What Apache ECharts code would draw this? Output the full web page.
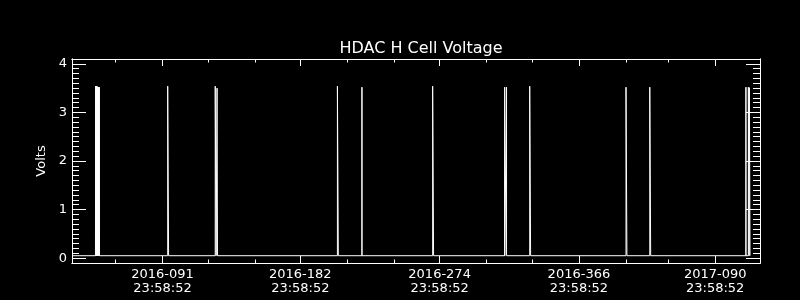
<!DOCTYPE html>
<html><head><meta charset="utf-8">
<script src="https://cdn.jsdelivr.net/npm/echarts@6/dist/echarts.min.js"></script>
<style>html,body{margin:0;padding:0;background:#000}#c{width:800px;height:300px}</style>
</head><body><div id="c"></div>
<script>
// ---- data (x = day of year, counted from 2016-001; 2017 days continue after 366) ----
const titleText = 'HDAC H Cell Voltage';
const yName = 'Volts';
const xRange = [32.2, 486.6];
const yRange = [-0.1, 4.1];
const majorTickDays = [91.999, 182.999, 274.999, 366.999, 456.999];
const majorTickLabels = ['2016-091\n23:58:52', '2016-182\n23:58:52', '2016-274\n23:58:52', '2016-366\n23:58:52', '2017-090\n23:58:52'];
const minorTickDays = [60.999, 121.999, 152.999, 213.999, 244.999, 305.999, 335.999, 397.999, 425.999];
const yMajorTicks = [0, 1, 2, 3, 4];
const yMinorStep = 0.1;

const days = [
  32.2,
  47.7, 47.8, 47.95, 48.1, 48.25, 48.4, 48.55, 48.7, 48.85, 49.0, 49.15, 49.3, 49.45, 49.6, 49.75, 49.9, 50.05, 50.2, 50.35,
  95.4, 95.4, 96.0, 96.0,
  126.8, 126.8, 127.4, 127.4,
  128.0, 128.0, 128.3, 128.3,
  207.5, 207.5, 208.1, 208.1,
  223.7, 223.7, 223.7,
  270.4, 270.4, 271.0, 271.0,
  318.0, 318.0, 318.0,
  319.2, 319.2, 319.2,
  334.5, 334.5, 335.1, 335.1,
  398.1, 398.1, 398.7, 398.7,
  413.8, 413.8, 414.4, 414.4,
  477.3, 477.3, 477.3,
  478.9, 478.9, 479.4, 479.4, 479.5, 479.6, 480.0, 480.0,
  480.3
];
const volts = [
  0.05,
  0.05, 3.54, 0.05, 3.54, 0.05, 3.54, 0.05, 3.53, 0.05, 3.53, 0.05, 3.52, 0.05, 3.52, 0.05, 3.52, 0.05, 3.52, 0.05,
  0.05, 3.54, 3.54, 0.05,
  0.05, 3.54, 3.54, 0.05,
  0.05, 3.50, 3.50, 0.05,
  0.05, 3.54, 3.54, 0.05,
  0.05, 3.52, 0.05,
  0.05, 3.54, 3.54, 0.05,
  0.05, 3.52, 0.05,
  0.05, 3.52, 0.05,
  0.05, 3.54, 3.52, 0.05,
  0.05, 3.52, 3.50, 0.05,
  0.05, 3.52, 3.52, 0.05,
  0.05, 3.52, 0.05,
  0.05, 3.52, 3.52, 0.05, 0.05, 3.51, 3.51, 0.05,
  0.05
];

const FONT = 'DejaVu Sans';
const WHITE = '#ffffff';
const lineStyle = { color: WHITE, width: 1 };

function xAxisDef(position, tickVals, tickLen, withLabels) {
  return {
    type: 'value', position: position, min: xRange[0], max: xRange[1],
    axisLine: { show: true, onZero: false, lineStyle: lineStyle },
    axisTick: { show: true, inside: true, length: tickLen, customValues: tickVals, lineStyle: lineStyle },
    axisLabel: withLabels ? {
      show: true, customValues: tickVals, color: WHITE, fontFamily: FONT, fontSize: 13,
      lineHeight: 14, margin: 5,
      formatter: function (v) {
        let best = 0;
        for (let i = 0; i < majorTickDays.length; i++) {
          if (Math.abs(majorTickDays[i] - v) < Math.abs(majorTickDays[best] - v)) best = i;
        }
        return majorTickLabels[best];
      }
    } : { show: false },
    splitLine: { show: false }
  };
}
function yAxisDef(position, opts, tickLen, withLabels) {
  const ax = {
    type: 'value', position: position, min: yRange[0], max: yRange[1],
    axisLine: { show: true, onZero: false, lineStyle: lineStyle },
    axisTick: Object.assign({ show: true, inside: true, length: tickLen, lineStyle: lineStyle }, opts.tick || {}),
    axisLabel: withLabels ? {
      show: true, customValues: yMajorTicks, color: WHITE, fontFamily: FONT, fontSize: 13, margin: 5,
      formatter: function (v) { return String(Math.round(v)); }
    } : { show: false },
    splitLine: { show: false }
  };
  if (opts.interval) ax.interval = opts.interval;
  if (withLabels) {
    ax.name = yName; ax.nameLocation = 'middle'; ax.nameRotate = 90; ax.nameGap = 21;
    ax.nameTextStyle = { color: WHITE, fontFamily: FONT, fontSize: 13 };
  }
  return ax;
}

const chart = echarts.init(document.getElementById('c'), null, { renderer: 'canvas' });
chart.setOption({
  backgroundColor: '#000000',
  animation: false,
  title: {
    text: titleText, left: 416, top: 36, textAlign: 'center',
    textStyle: { color: WHITE, fontFamily: FONT, fontSize: 16, fontWeight: 'normal' }
  },
  grid: { left: 72, right: 40, top: 59, bottom: 37, containLabel: false },
  xAxis: [
    xAxisDef('bottom', majorTickDays, 7, true),
    xAxisDef('bottom', minorTickDays, 3.5, false),
    xAxisDef('top', majorTickDays, 7, false),
    xAxisDef('top', minorTickDays, 3.5, false)
  ],
  yAxis: [
    yAxisDef('left', { tick: { customValues: yMajorTicks } }, 14, true),
    yAxisDef('left', { interval: yMinorStep }, 7, false),
    yAxisDef('right', { tick: { customValues: yMajorTicks } }, 14, false),
    yAxisDef('right', { interval: yMinorStep }, 7, false)
  ],
  series: [{
    type: 'line', xAxisIndex: 0, yAxisIndex: 0,
    data: days.map(function (d, i) { return [d, volts[i]]; }),
    showSymbol: false, symbol: 'none', smooth: false,
    lineStyle: { color: WHITE, width: 1 }
  }]
});
</script>
</body></html>
